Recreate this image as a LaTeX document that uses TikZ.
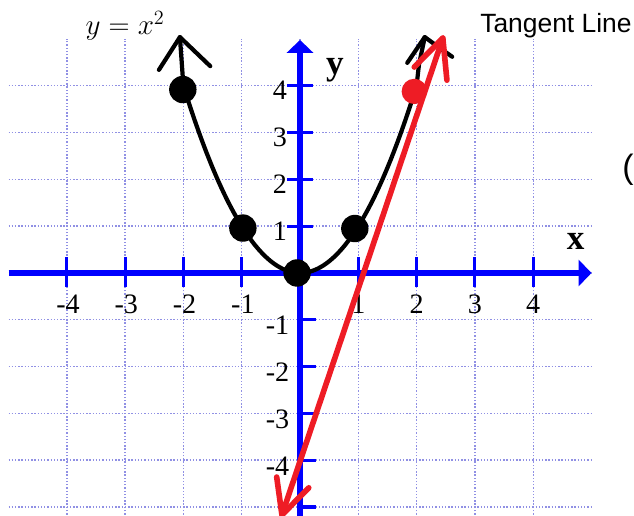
\documentclass[tikz,border=0pt]{standalone}
\usepackage{fontspec}
\setmainfont{Liberation Serif}
\newfontfamily\sansfont{Liberation Sans}
\usepackage{tikz}
\usetikzlibrary{arrows.meta}
\definecolor{axisblue}{HTML}{0000FF}
\definecolor{gridlav}{HTML}{9090E4}
\definecolor{tanred}{HTML}{EE1C25}

\begin{document}
\begin{tikzpicture}[x=1.4575cm,y=1.17cm,
  griddot/.style={gridlav,line width=1pt,dash pattern=on 1pt off 1.3pt},
  axisline/.style={axisblue,line width=3.8pt,-{Triangle[length=9.2pt,width=18.5pt]}},
  tickmark/.style={axisblue,line width=2.2pt},
  ticklabel/.style={font=\fontsize{20}{22}\selectfont,inner sep=0pt},
  axislabel/.style={font=\fontsize{25}{27}\selectfont\bfseries,inner sep=0pt},
  handline/.style={black,line width=3pt,line cap=round,line join=round},
  redline/.style={tanred,line width=4pt,line cap=round,line join=round},
  dot/.style={circle,fill=black,minimum size=19.5pt,inner sep=0pt}]
\useasboundingbox (-5.146,-5.192) rectangle (5.729,5.833);

\draw[griddot] (-5,-5) grid[xstep=20,ystep=1] (5,4.5);
\draw[griddot] (-4.5,-5.3) grid[xstep=1,ystep=20] (4.5,5);

% Axes
\coordinate (xstart) at (-5,0);
\coordinate (xend) at (5.0,0);
\coordinate (ystart) at (0,-5.3);
\coordinate (yend) at (0,4.98);
\draw[axisline] (xstart) -- (xend);
\draw[axisline] (ystart) -- (yend);
\draw[tickmark] (-0.22,1) -- (0.22,1) (-0.22,2) -- (0.22,2) (-0.22,3) -- (0.22,3) (-0.22,4) -- (0.22,4);
\draw[tickmark] (0,-1) -- (0.27,-1) (0,-2) -- (0.27,-2) (0,-3) -- (0.27,-3) (0,-4) -- (0.27,-4) (0,-5) -- (0.27,-5);
\draw[tickmark] (-4,-0.3) -- (-4,0.34) (-3,-0.3) -- (-3,0.34) (-2,-0.3) -- (-2,0.34) (-1,-0.3) -- (-1,0.34);
\draw[tickmark] (1,-0.3) -- (1,0.34) (2,-0.3) -- (2,0.34) (3,-0.3) -- (3,0.34) (4,-0.3) -- (4,0.34);

\node[ticklabel] (xm4) at (-3.98,-0.66) {-4};
\node[ticklabel] (xm3) at (-2.98,-0.66) {-3};
\node[ticklabel] (xm2) at (-1.98,-0.66) {-2};
\node[ticklabel] (xm1) at (-0.98,-0.66) {-1};
\node[ticklabel] (xp1) at (1,-0.66) {1};
\node[ticklabel] (xp2) at (2,-0.66) {2};
\node[ticklabel] (xp3) at (3,-0.66) {3};
\node[ticklabel] (xp4) at (4,-0.66) {4};
\node[ticklabel,anchor=east] (yp4) at (-0.22,3.9) {4};
\node[ticklabel,anchor=east] (yp3) at (-0.22,2.9) {3};
\node[ticklabel,anchor=east] (yp2) at (-0.22,1.9) {2};
\node[ticklabel,anchor=east] (yp1) at (-0.22,0.9) {1};
\node[ticklabel,anchor=east] (ym1) at (-0.18,-1.12) {-1};
\node[ticklabel,anchor=east] (ym2) at (-0.18,-2.12) {-2};
\node[ticklabel,anchor=east] (ym3) at (-0.18,-3.12) {-3};
\node[ticklabel,anchor=east] (ym4) at (-0.18,-4.12) {-4};
\node[axislabel] (ylabel) at (0.6,4.34) {y};
\node[axislabel] (xlabel) at (4.73,0.68) {x};

% Parabola drawn by hand
\coordinate (ltip) at (-2.06,5.04);
\coordinate (lbarbA) at (-2.42,4.34);
\coordinate (lbarbB) at (-1.54,4.42);
\coordinate (rtip) at (2.14,5.04);
\coordinate (rbarbA) at (1.84,4.49);
\coordinate (rbarbB) at (2.61,4.62);
\draw[handline] (ltip) -- (-2,4) -- plot[smooth,domain=-2:2,samples=41] (\x,{\x*\x}) -- (2.04,4.45) -- (rtip);
\draw[handline] (lbarbA) -- (ltip) -- (lbarbB);
\draw[handline] (rbarbA) -- (rtip) -- (2.35,4.85) -- (rbarbB);

\node[dot] (pm2) at (-2.01,3.92) {};
\node[dot] (pm1) at (-0.98,0.96) {};
\node[dot] (p0) at (-0.05,0) {};
\node[dot] (p1) at (0.94,0.95) {};

% Tangent line at x = 2
\coordinate (tbot) at (-0.31,-5.17);
\coordinate (ttop) at (2.45,5.02);
\coordinate (tbotA) at (-0.40,-4.36);
\coordinate (tbotB) at (0.15,-4.59);
\coordinate (ttopA) at (1.96,4.40);
\coordinate (ttopB) at (2.52,4.12);
\draw[redline] (tbot) -- (ttop);
\draw[redline] (tbotA) -- (tbot) -- (tbotB);
\draw[redline] (ttopA) -- (ttop) -- (ttopB);
\node[dot,fill=tanred,minimum size=18pt] (p2) at (1.96,3.88) {};

\node[font=\fontsize{21}{23}\selectfont] (eqn) at (-3.0,5.28) {$y = x^2$};
\node[font=\sansfont\fontsize{18.8}{21}\selectfont,anchor=base west,inner sep=0pt] (tanlabel) at (3.087,5.128) {Tangent Line};
\node[font=\sansfont\fontsize{24}{26}\selectfont,anchor=east,inner sep=0pt] (paren) at (5.725,2.2) {(};
\end{tikzpicture}
\end{document}
